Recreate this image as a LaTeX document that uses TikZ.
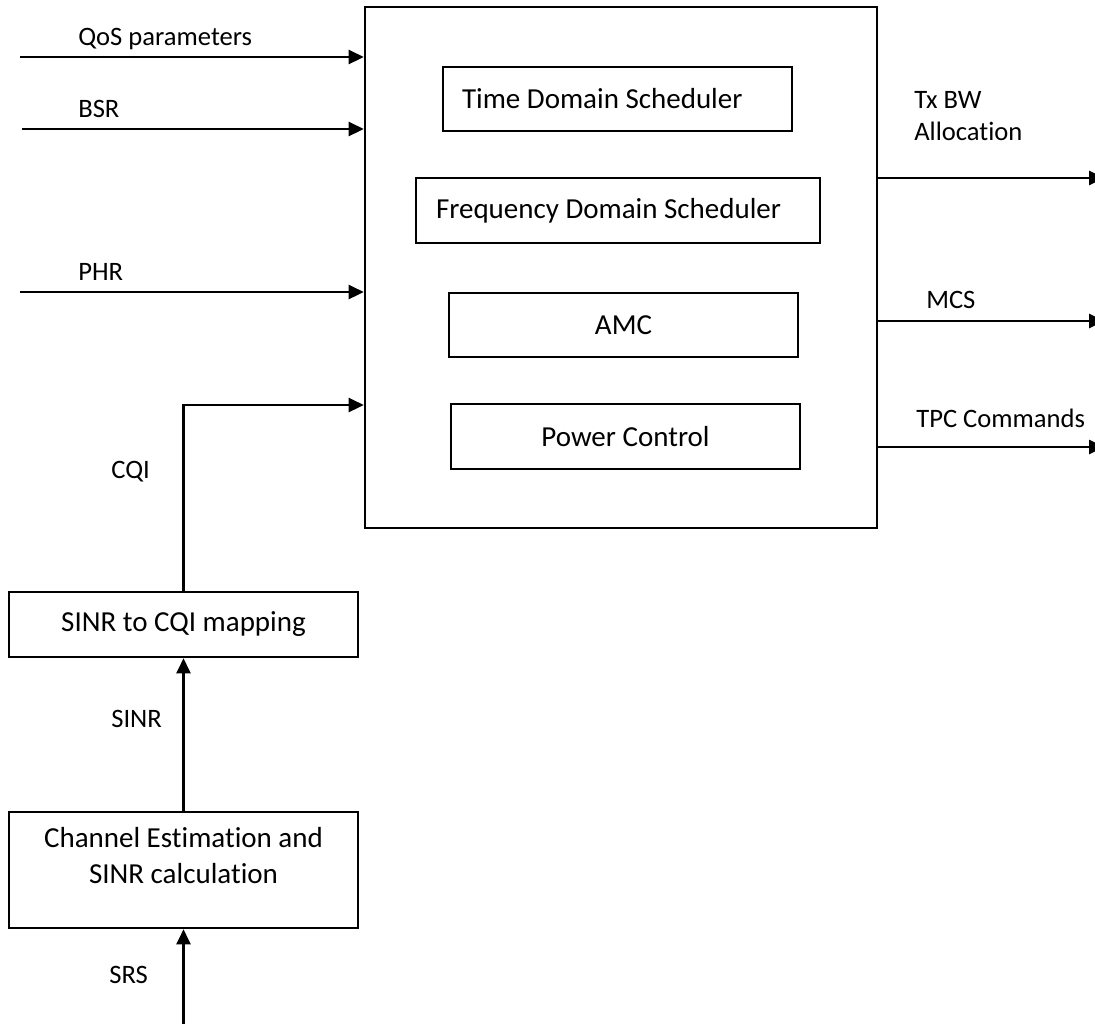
\documentclass[tikz,border=0pt]{standalone}
\usepackage{fontspec}
\setmainfont{Carlito}[Ligatures=NoCommon]
\usetikzlibrary{arrows.meta, calc}
\newcommand{\lblfont}{\fontsize{26.6pt}{32pt}\selectfont}
\newcommand{\blkfont}{\fontsize{29pt}{36pt}\selectfont}

\begin{document}
\begin{tikzpicture}[x=1pt, y=-1pt, >={Triangle[length=15pt,width=14pt]}, line width=2.6pt,
  blk/.style={draw, rectangle, inner sep=0pt, minimum width=349pt, minimum height=65pt, font=\blkfont},
  lbl/.style={inner sep=0pt, anchor=base west, font=\lblfont}]
  \useasboundingbox (0,0) rectangle (1095,1026);
  % --- scheduler ---
  \node (sched) [draw, rectangle, inner sep=0pt, minimum width=512pt, minimum height=521pt] at (621,267.5) {};
  \node (tds) [blk, minimum height=64pt] at (617.5,99) {\makebox[311pt][l]{Time Domain Scheduler}};
  \node (fds) [blk, minimum width=404pt] at (618,210.5) {\makebox[364pt][l]{Frequency Domain Scheduler}};
  \node (amc) [blk, minimum height=64pt] at (623.5,325) {AMC};
  \node (pc)  [blk] at (625.5,436.5) {Power Control};
  % --- measurement chain ---
  \node (map) [blk] at (183.5,624.5) {SINR to CQI mapping};
  \node (est) [blk, minimum height=116pt] at (183.5,870) {};
  \node (esttxt) [font=\blkfont, align=center, inner sep=0pt] at ($(est.center)+(0,-14)$) {Channel Estimation and\\SINR calculation};
  % --- inputs ---
  \coordinate (qos) at (20,57);
  \coordinate (bsr) at (22,129);
  \coordinate (phr) at (20,292);
  \coordinate (cqi) at (183.5,405);
  \coordinate (srs) at (183.5,1024);
  \draw[->] (qos) -- (qos -| sched.west);
  \draw[->] (bsr) -- (bsr -| sched.west);
  \draw[->] (phr) -- (phr -| sched.west);
  \draw[->] (map.north) -- (cqi) -- (cqi -| sched.west);
  \draw[->] (est.north) -- (map.south);
  \draw[->] (srs) -- (est.south);
  \node (lqos)  [lbl] at (77,45)   {QoS parameters};
  \node (lbsr)  [lbl] at (77,117)  {BSR};
  \node (lphr)  [lbl] at (77,280)  {PHR};
  \node (lcqi)  [lbl] at (110,478) {CQI};
  \node (lsinr) [lbl] at (110,727) {SINR};
  \node (lsrs)  [lbl] at (108,983) {SRS};
  % --- outputs ---
  \coordinate (txbw) at (1104,178);
  \coordinate (mcs)  at (1104,321);
  \coordinate (tpc)  at (1104,447);
  \draw[->] (sched.east |- txbw) -- (txbw);
  \draw[->] (sched.east |- mcs) -- (mcs);
  \draw[->] (sched.east |- tpc) -- (tpc);
  \node (ltx)  [lbl, anchor=north west, align=left] at (913,90) {Tx BW\\Allocation};
  \node (lmcs) [lbl] at (925,308) {MCS};
  \node (ltpc) [lbl] at (915,427) {TPC Commands};
\end{tikzpicture}
\end{document}
